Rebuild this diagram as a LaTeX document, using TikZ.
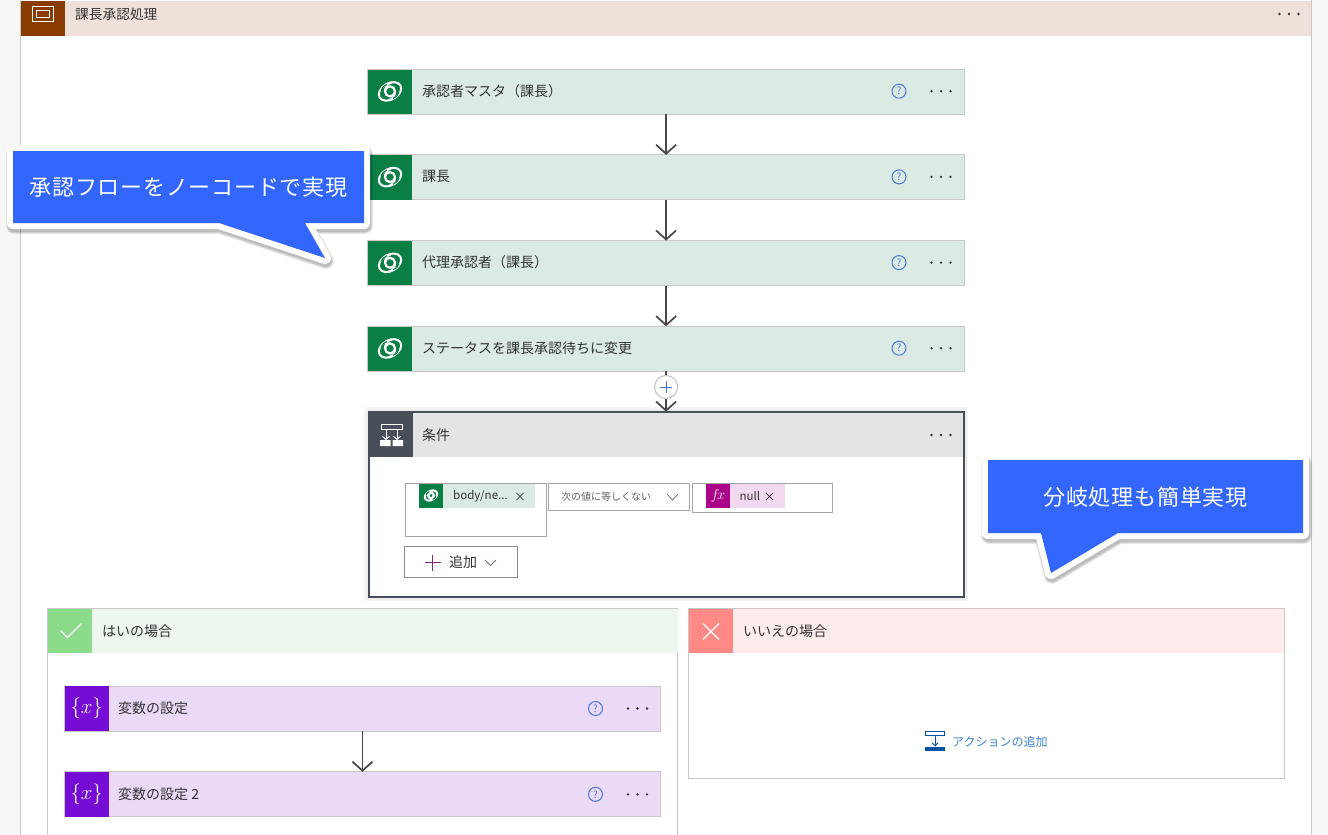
\documentclass[tikz,border=0pt]{standalone}
\usepackage{fontspec}
\setmainfont{Noto Sans CJK JP}
\usetikzlibrary{arrows.meta,calc}
\definecolor{txt}{HTML}{333333}
\definecolor{edge}{HTML}{C8C8C8}
\definecolor{bluebox}{HTML}{3366FF}
\definecolor{grn}{HTML}{0A7F45}
\definecolor{grnl}{HTML}{DBEBE3}
\definecolor{pur}{HTML}{770BD6}
\definecolor{purl}{HTML}{EAD9F7}
\definecolor{slate}{HTML}{484F58}
\definecolor{helpc}{HTML}{4A78E0}
\definecolor{scopel}{HTML}{EEE1DA}
\definecolor{scoped}{HTML}{8A3B00}
\definecolor{condl}{HTML}{E3E4E6}
\definecolor{fxl}{HTML}{F2D9EF}
\definecolor{fxd}{HTML}{AB0088}
\definecolor{addc}{HTML}{822882}
\definecolor{yesl}{HTML}{EDF7EF}
\definecolor{yesd}{HTML}{8BDB8B}
\definecolor{nol}{HTML}{FEECEC}
\definecolor{nod}{HTML}{FF8A85}
\definecolor{addd}{HTML}{0054A6}
\definecolor{addt}{HTML}{3C82D7}
\tikzset{
  x=1pt,y=-1pt,
  card/.style={draw=edge,line width=1pt,anchor=north west,minimum height=45pt,inner sep=0pt,outer sep=0pt},
  gcard/.style={card,fill=grnl,minimum width=596.6pt},
  pcard/.style={card,fill=purl,minimum width=596.5pt},
  tile/.style={anchor=north west,minimum width=44pt,minimum height=44.4pt,inner sep=0pt,outer sep=0pt,text=white},
  lab/.style={anchor=west,inner sep=0pt,text=txt,font=\fontsize{14}{14}\selectfont},
  small/.style={anchor=west,inner sep=0pt,text=txt,font=\fontsize{12}{12}\selectfont},
  conn/.style={draw=black!72,line width=1.7pt,-{Straight Barb[length=9pt,width=20pt,line width=1.7pt]}},
  fieldbox/.style={draw=black!35,line width=1pt,fill=white,anchor=north west,inner sep=0pt,outer sep=0pt},
  callfill/.style={fill=bluebox},
  callline/.style={draw=white,line width=12pt,line join=round,fill=white},
  calltext/.style={text=white,inner sep=0pt,font=\fontsize{22}{22}\selectfont\addfontfeature{LetterSpace=3.5}},
}
\newcommand{\threedots}[2]{\fill[black!80] (#1-9.5,#2) circle (1.3) (#1,#2) circle (1.3) (#1+9.5,#2) circle (1.3);}
\newcommand{\helpmark}[3]{\node[circle,draw=helpc,line width=1pt,minimum size=14pt,inner sep=0pt,text=helpc,font=\fontsize{10}{10}\selectfont] (#1) at (#2,#3) {?};}
\newcommand{\dvglyph}[3]{\begin{scope}[shift={(#1,#2)},scale=#3]
  \draw[white,line width=2pt,rotate=30] (0,0) ellipse (12 and 8.2);
  \draw[white,line width=2.2pt] (0,0) circle (5);
  \draw[white,line width=1.6pt] (-5,0.5) .. controls (-6,-3) and (-3,-7.5) .. (2,-9);
  \draw[white,line width=1.6pt] (5,-0.5) .. controls (6,3) and (3,7.5) .. (-2,9);
  \draw[grn,line width=1.1pt] (-9,-1) .. controls (-8,-4) and (-6,-6) .. (-3,-7);
  \draw[grn,line width=1.1pt] (9,1) .. controls (8,4) and (6,6) .. (3,7);
\end{scope}}
\newcommand{\softshadow}[1]{\foreach \w in {16,14.5,13,11.5}{\draw[black,opacity=.07,line width=\w pt,line join=round,shift={(1,3)}] #1;}}
\begin{document}
\begin{tikzpicture}
\useasboundingbox (0,0) rectangle (1328,835);
\begin{scope}
\clip (0,0) rectangle (1328,835);
% page and outer frame
\fill[black!3] (0,0) rectangle (1328,835);
\fill[white] (21,0) rectangle (1311,835);
\draw[edge,line width=1pt] (20.5,0) -- (20.5,835) (1311.5,0) -- (1311.5,835);
\fill[scopel] (21,1) rectangle (1311,36);
\node[tile,fill=scoped,minimum height=35pt] (scopeicon) at (21,1) {};
\draw[white,line width=1pt] (32.5,6.5) rectangle (53.5,21);
\draw[white,line width=1pt] (36.5,10) rectangle (49.5,17.5);
\node[small,font=\fontsize{13.7}{14}\selectfont] (scopelabel) at (75,14) {課長承認処理};
\threedots{1289}{14}

% green action cards
\node[gcard] (c1) at (367.8,69.2) {};
\node[gcard] (c2) at (367.8,154.9) {};
\node[gcard] (c3) at (367.8,240.6) {};
\node[gcard] (c4) at (367.8,326.2) {};
\foreach \n/\y/\t in {1/69.2/承認者マスタ（課長）,2/154.9/課長,3/240.6/代理承認者（課長）,4/326.2/ステータスを課長承認待ちに変更}{
  \node[tile,fill=grn] (t\n) at (368.3,\y+0.4) {};
  \dvglyph{390}{\y+22.2}{1}
  \node[lab] (l\n) at (422,\y+22) {\t};
  \helpmark{h\n}{899}{\y+22}
  \threedots{941}{\y+22}
}
\draw[conn] (c1) -- (c2);
\draw[conn] (c2) -- (c3);
\draw[conn] (c3) -- (c4);

% condition
\foreach \w in {9,6}{\draw[black,opacity=.035,line width=\w pt] (368.5,411.7) rectangle (963.5,596.5);}
\node[draw=slate,line width=2pt,fill=white,anchor=north west,minimum width=595pt,minimum height=184.8pt,inner sep=0pt,outer sep=0pt] (cond) at (368.5,411.7) {};
\fill[condl] (369,412.7) rectangle (963,456.8);
\node[tile,fill=slate] (ticon) at (369,412.7) {};
\draw[white,line width=1pt] (381,424.5) rectangle (402,429);
\draw[white,line width=1pt,-{Straight Barb[length=3pt,width=7pt]}] (386,429) -- (386,440);
\draw[white,line width=1pt,-{Straight Barb[length=3pt,width=7pt]}] (397,429) -- (397,440);
\fill[white] (380,440) rectangle (390.5,446) (392.5,440) rectangle (403,446);
\node[lab] (lcond) at (422,435) {条件};
\threedots{941}{435}

% plus and arrow to condition
\node[circle,draw=edge,line width=1.2pt,fill=white,minimum size=23pt,inner sep=0pt] (plus) at (666.1,387) {};
\draw[helpc,line width=1pt] (660.1,387) -- (672.1,387) (666.1,381) -- (666.1,393);
\draw[draw=black!72,line width=1.7pt] (c4) -- (plus);
\draw[conn] (plus) -- (plus|-cond.north);

% condition fields
\node[fieldbox,minimum width=140.7pt,minimum height=52.7pt] (f1) at (405.3,483.3) {};
\node[anchor=north west,fill=grnl,minimum width=91.7pt,minimum height=23.3pt,inner sep=0pt] (chip1) at (443,484) {};
\node[anchor=north west,fill=grn,minimum width=24pt,minimum height=23.3pt,inner sep=0pt] (chip1i) at (419,484) {};
\dvglyph{431}{495.5}{0.55}
\node[small,font=\fontsize{11.5}{12}\selectfont] (ch1t) at (453,496.5) {body/ne...};
\node[small,font=\fontsize{12}{12}\selectfont] (ch1x) at (514,497.5) {×};
\node[fieldbox,minimum width=141pt,minimum height=27pt] (f2) at (548.7,483.3) {};
\node[small,font=\fontsize{10}{10}\selectfont,text=black!62] (f2t) at (561,497) {次の値に等しくない};
\draw[black!55,line width=.8pt] (667,494) -- (672.5,500) -- (678,494);
\node[fieldbox,minimum width=140.7pt,minimum height=29pt] (f3) at (692.2,483.3) {};
\node[anchor=north west,fill=fxl,minimum width=55pt,minimum height=23.6pt,inner sep=0pt] (chip3) at (730,484) {};
\node[anchor=north west,fill=fxd,minimum width=24pt,minimum height=23.6pt,inner sep=0pt,text=white] (chip3i) at (706,484) {};
\node[text=white,inner sep=0pt] (fx) at (718,496) {\fontsize{14}{14}\selectfont$f\!x$};
\node[small,font=\fontsize{11.5}{12}\selectfont] (ch3t) at (739.5,496) {null};
\node[small,font=\fontsize{12}{12}\selectfont] (ch3x) at (763.5,497.5) {×};
\node[fieldbox,draw=black!45,minimum width=112.6pt,minimum height=30.6pt] (addb) at (404.7,546.7) {};
\draw[addc,line width=1pt] (424.5,562.5) -- (440.5,562.5) (432.5,554.5) -- (432.5,570.5);
\node[small,font=\fontsize{14}{14}\selectfont] (addlab) at (449,562.5) {追加};
\draw[black!55,line width=.8pt] (485,560) -- (490.5,565.5) -- (496,560);

% yes branch
\draw[edge,line width=1pt] (47.3,835) -- (47.3,608.5) -- (677.5,608.5) -- (677.5,835);
\node[anchor=north west,fill=yesl,minimum width=629.5pt,minimum height=43.7pt,inner sep=0pt] (yh) at (47.8,609) {};
\node[tile,fill=yesd,minimum height=43.7pt] (yi) at (47.8,609) {};
\draw[white,line width=1.2pt] (60.5,630.5) -- (67.5,637.5) -- (81.5,623.5);
\node[lab] (yl) at (102,631.5) {はいの場合};
\node[pcard] (p1) at (64.2,686) {};
\node[pcard] (p2) at (64.2,771.8) {};
\foreach \n/\y/\t in {1/686/変数の設定,2/771.8/変数の設定 2}{
  \node[tile,fill=pur,text=white,font=\fontsize{22}{22}\selectfont] (q\n) at (64.7,\y+0.4) {$\{x\}$};
  \node[lab] (pl\n) at (118,\y+22.5) {\t};
  \helpmark{ph\n}{595.5}{\y+22.5}
  \threedots{637.5}{\y+22.5}
}
\draw[conn] (p1) -- (p2);

% no branch
\node[draw=edge,line width=1pt,fill=white,anchor=north west,minimum width=596.2pt,minimum height=170pt,inner sep=0pt,outer sep=0pt] (nb) at (688.5,608.5) {};
\node[anchor=north west,fill=nol,minimum width=595.2pt,minimum height=43.7pt,inner sep=0pt] (nh) at (689,609) {};
\node[tile,fill=nod,minimum height=43.7pt] (ni) at (689,609) {};
\draw[white,line width=1.2pt] (703,623.5) -- (719,639.5) (719,623.5) -- (703,639.5);
\node[lab] (nl) at (743,631.5) {いいえの場合};
\fill[addd] (925,747) rectangle (945,750.5);
\draw[addd,line width=.9pt] (925.5,731) rectangle (944.5,735.5);
\draw[addd,line width=.9pt,-{Straight Barb[length=3pt,width=6pt]}] (935,735.5) -- (935,746.5);
\node[small,text=addt] (nadd) at (952,741.5) {アクションの追加};

% callouts
\def\callA{(13,151) -- (364,151) -- (364,223) -- (305,223) -- (325,258) -- (219,223) -- (13,223) -- cycle}
\softshadow{\callA}
\draw[callline] \callA;
\fill[callfill] \callA;
\node[calltext,anchor=center] (callAt) at (188.5,187) {承認フローをノーコードで実現};
\def\callB{(988,460) -- (1303,460) -- (1303,533) -- (1118,533) -- (1051,573) -- (1041,533) -- (988,533) -- cycle}
\softshadow{\callB}
\draw[callline] \callB;
\fill[callfill] \callB;
\node[calltext,anchor=center] (callBt) at (1145.5,497) {分岐処理も簡単実現};
\end{scope}
\end{tikzpicture}
\end{document}
